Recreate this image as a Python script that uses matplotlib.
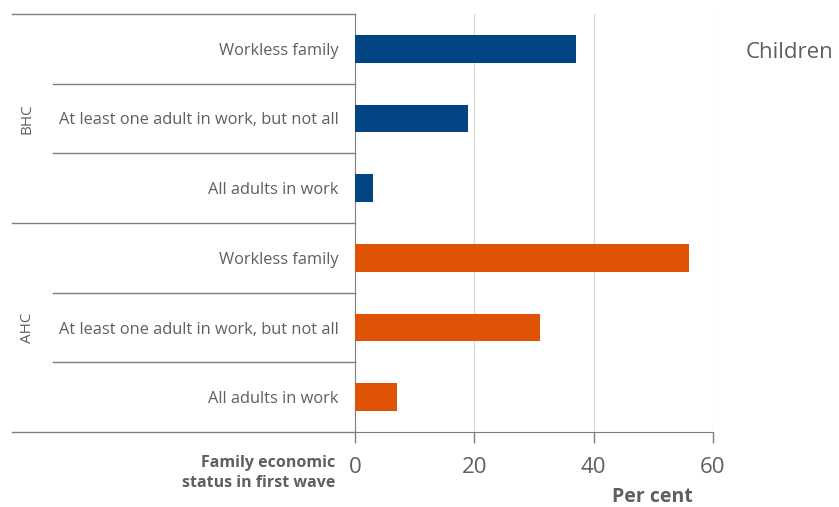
import matplotlib.pyplot as plt

# Share of children by family economic status in first wave
groups = ["BHC", "AHC"]
categories = ["Workless family", "At least one adult in work, but not all", "All adults in work"]
bhc_values = [37, 19, 3]
ahc_values = [56, 31, 7]
x_ticks = [0, 20, 40, 60]

BLUE = "#034582"
ORANGE = "#E05206"
TEXT = "#5f5f5f"
LINE = "#7f7f7f"
FONT = "Open Sans"

fig = plt.figure(figsize=(8.39, 5.07), dpi=100)
ax = fig.add_axes([0.4231, 0.1479, 0.4267, 0.8245])

n = len(categories)
# rows from top to bottom: BHC categories, then AHC categories
labels = categories + categories
values = bhc_values + ahc_values
colors = [BLUE] * n + [ORANGE] * n
ypos = list(range(len(values)))

ax.barh(ypos, values, height=0.4, color=colors, zorder=3)
ax.set_ylim(len(values) - 0.5, -0.5)
ax.set_xlim(0, 60)

ax.set_yticks(ypos)
ax.set_yticklabels(labels, fontsize=11.8, color=TEXT, family=FONT)
ax.tick_params(axis="y", length=0, pad=12)

ax.set_xticks(x_ticks)
ax.set_xticklabels([str(t) for t in x_ticks], fontsize=16, color=TEXT, family=FONT)
ax.tick_params(axis="x", length=8, width=1, color=LINE, pad=10)

ax.grid(axis="x", color="#d9d9d9", linewidth=0.8, zorder=0)
for side in ["top", "right"]:
    ax.spines[side].set_visible(False)
ax.spines["left"].set_color(LINE)
ax.spines["bottom"].set_color(LINE)

# group separators and category separators on the left side
trans = ax.get_yaxis_transform()
edges = [-0.5 + i for i in range(len(values) + 1)]
for i, y in enumerate(edges):
    if i % n == 0:
        x0 = -0.958
    else:
        x0 = -0.844
    ax.plot([x0, 0], [y, y], color=LINE, linewidth=1, transform=trans, clip_on=False)

for g, name in enumerate(groups):
    yc = g * n + (n - 1) / 2
    ax.text(-0.915, yc, name, transform=trans, rotation=90, ha="center", va="center",
            fontsize=11, color=TEXT, family=FONT)

fig.text(335 / 839, 1 - 473 / 507, "Family economic\nstatus in first wave", ha="right", va="center",
         fontsize=11.5, fontweight="bold", color=TEXT, family=FONT, linespacing=1.35)
fig.text(652 / 839, 1 - 497 / 507, "Per cent", ha="center", va="center",
         fontsize=14, fontweight="bold", color=TEXT, family=FONT)
fig.text(746 / 839, 1 - 52 / 507, "Children", ha="left", va="center",
         fontsize=16, color=TEXT, family=FONT)

fig.savefig("out.png", dpi=100)
